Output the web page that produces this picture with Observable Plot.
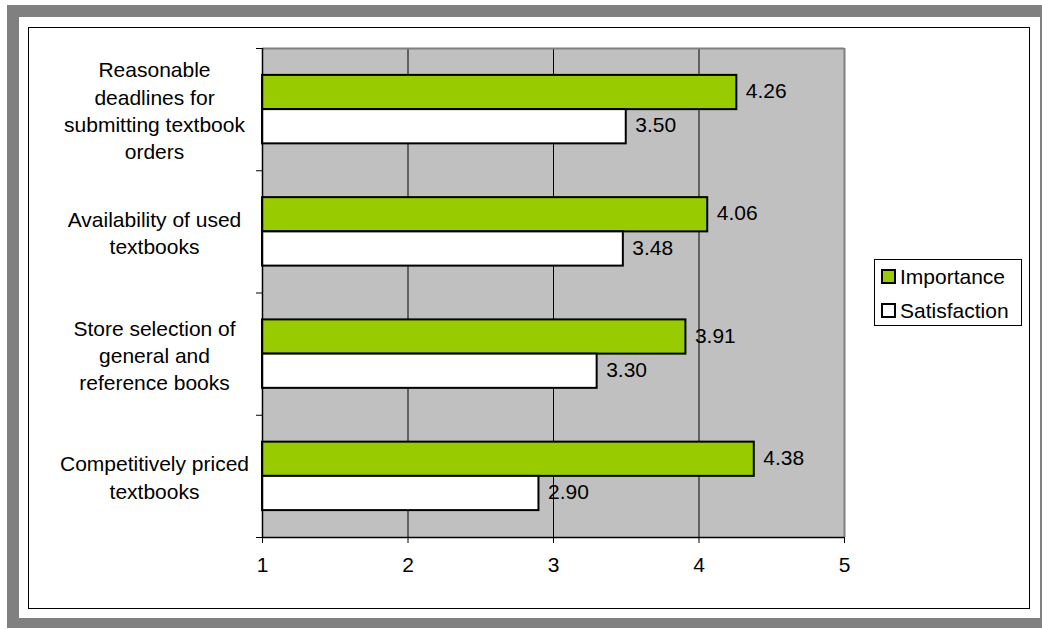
<!DOCTYPE html>
<html>
<head>
<meta charset="utf-8">
<script src="https://cdn.jsdelivr.net/npm/d3@7"></script>
<script src="https://cdn.jsdelivr.net/npm/@observablehq/plot@0.6"></script>
<style>
  html, body { margin: 0; padding: 0; background: #fff; }
  #wrap { position: relative; width: 1042px; height: 629px; overflow: hidden; font-family: "Liberation Sans", Arial, sans-serif; }
  .abs { position: absolute; box-sizing: border-box; }
  #chart { position: absolute; left: 0; top: 0; }
  .lg-sw { position: absolute; width: 15px; height: 15px; border: 2px solid #000; box-sizing: border-box; }
  .lg-tx { position: absolute; font-size: 21px; line-height: 24px; height: 24px; color: #000; white-space: nowrap; }
</style>
</head>
<body>
<div id="wrap">
  <div class="abs" style="left:7px;top:5px;width:1035px;height:623px;background:#808080;"></div>
  <div class="abs" style="left:19px;top:17px;width:1021px;height:601px;background:#fff;"></div>
  <div class="abs" style="left:28px;top:27px;width:1002px;height:582px;border:1px solid #000;"></div>
  <div id="chart"></div>
  <div id="legend"></div>
</div>
<script>
// ---- data ----
const categories = [
  "Reasonable deadlines for submitting textbook orders",
  "Availability of used textbooks",
  "Store selection of general and reference books",
  "Competitively priced textbooks"
];
const categoryLabels = [
  "Reasonable\ndeadlines for\nsubmitting textbook\norders",
  "Availability of used\ntextbooks",
  "Store selection of\ngeneral and\nreference books",
  "Competitively priced\ntextbooks"
];
const importance = [4.26, 4.06, 3.91, 4.38];
const satisfaction = [3.50, 3.48, 3.30, 2.90];
const seriesNames = ["Importance", "Satisfaction"];
const seriesColors = ["#99cc00", "#ffffff"];
const xTicks = [1, 2, 3, 4, 5];

// ---- build table ----
const rows = [];
categories.forEach((c, k) => {
  rows.push({cat: c, k, series: seriesNames[0], value: importance[k]});
  rows.push({cat: c, k, series: seriesNames[1], value: satisfaction[k]});
});
const cats = categories.map((c, k) => ({cat: c, k, label: categoryLabels[k]}));

// layout within each category band (fractions of the band)
const slot = {Importance: [0.22, 0.5], Satisfaction: [0.5, 0.78]};

const font = '"Liberation Sans", Arial, sans-serif';

const chart = Plot.plot({
  width: 1042,
  height: 629,
  marginLeft: 262,
  marginRight: 198,
  marginTop: 48,
  marginBottom: 92,
  style: {background: "transparent", fontFamily: font, fontSize: "21px", color: "#000"},
  x: {domain: [1, 5], ticks: xTicks},
  y: {domain: [0, categories.length], reverse: true},
  color: {domain: seriesNames, range: seriesColors},
  marks: [
    Plot.frame({fill: "#c0c0c0", stroke: null}),
    Plot.gridX({ticks: [2, 3, 4], stroke: "#000", strokeOpacity: 1, strokeWidth: 1}),
    Plot.ruleY([0], {stroke: "#808080", strokeWidth: 2}),
    Plot.ruleX([5], {stroke: "#808080", strokeWidth: 2}),
    Plot.rectX(rows, {
      x1: 1,
      x2: "value",
      y1: d => d.k + slot[d.series][0],
      y2: d => d.k + slot[d.series][1],
      fill: "series",
      stroke: "#000",
      strokeWidth: 2
    }),
    Plot.ruleX([1], {stroke: "#000", strokeWidth: 1.5}),
    Plot.ruleY([categories.length], {stroke: "#000", strokeWidth: 1.5}),
    Plot.axisX({ticks: xTicks, tickFormat: d3.format("d"), tickSize: 6, tickPadding: 14, fontSize: 21, label: null, stroke: "#000"}),
    Plot.axisY({ticks: d3.range(categories.length + 1), tickSize: 6, tickFormat: () => "", label: null, stroke: "#000"}),
    Plot.text(rows, {
      x: "value",
      y: d => d.k + (slot[d.series][0] + slot[d.series][1]) / 2,
      text: d => d.value.toFixed(2),
      dx: 9,
      dy: -1,
      textAnchor: "start",
      fontSize: 21,
      fill: "#000"
    }),
    Plot.text(cats, {
      x: 1,
      y: d => d.k + 0.5,
      text: "label",
      dx: -108,
      textAnchor: "middle",
      lineHeight: 1.3,
      fontSize: 21,
      fill: "#000"
    })
  ]
});
document.getElementById("chart").appendChild(chart);

// ---- legend ----
const legend = document.getElementById("legend");
legend.innerHTML =
  '<div class="abs" style="left:874px;top:259px;width:148px;height:67px;border:1px solid #000;background:#fff;"></div>' +
  seriesNames.map((s, i) => {
    const cy = 276.5 + i * 34;
    return '<div class="lg-sw" style="left:881px;top:' + (cy - 7.5) + 'px;background:' + seriesColors[i] + ';"></div>' +
           '<div class="lg-tx" style="left:900px;top:' + (cy - 12) + 'px;">' + s + '</div>';
  }).join("");
</script>
</body>
</html>
